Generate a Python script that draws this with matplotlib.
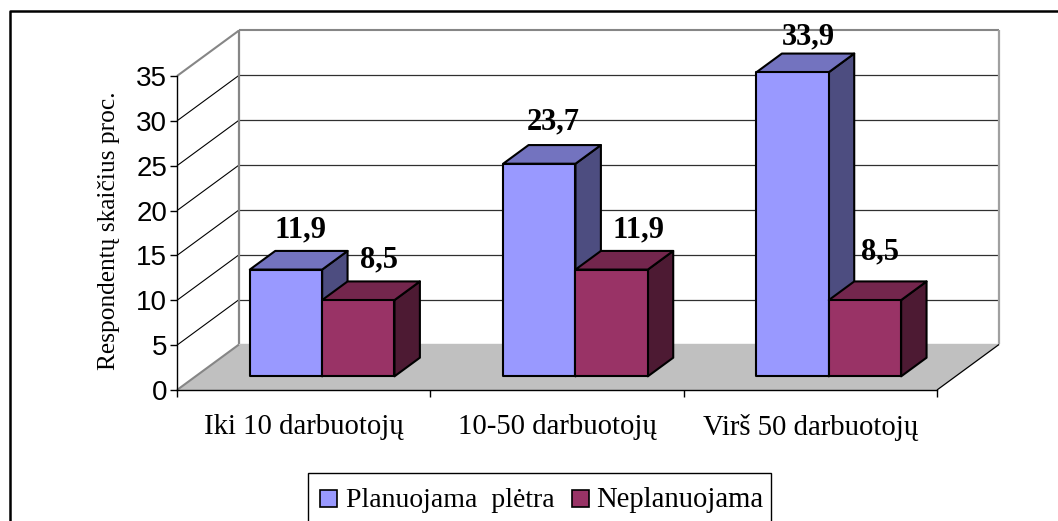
from matplotlib import pyplot as plt
from matplotlib.patches import Polygon, Rectangle

categories = ["Iki 10 darbuotojų", "10-50 darbuotojų", "Virš 50 darbuotojų"]
planned = [11.9, 23.7, 33.9]
not_planned = [8.5, 11.9, 8.5]
legend_labels = ["Planuojama  plėtra", "Neplanuojama"]
y_ticks = [0, 5, 10, 15, 20, 25, 30, 35]

W, H = 1058, 521
X0, X1, Y0, Y35 = 177, 937, 390, 76
DX = 62 / 253.33   # shift of the back wall, in categories
DY = 45.5 / 8.97   # shift of the back wall, in value units
BAR_LEFT, BAR_W = 0.214, 0.2855
D_FRONT, D_BACK = 0.30, 0.71

SERIF = "Liberation Serif"
SANS = "Liberation Sans"

fig = plt.figure(figsize=(W / 100, H / 100), dpi=100, facecolor="white")
ax = fig.add_axes([X0 / W, 1 - Y0 / H, (X1 - X0) / W, (Y0 - Y35) / H])
ax.set_xlim(0, 3)
ax.set_ylim(0, 35)
ax.patch.set_visible(False)

px = fig.add_axes([0, 0, 1, 1], zorder=-1)
px.set_xlim(0, W)
px.set_ylim(H, 0)
px.axis("off")


def poly(points, color, edge="none", lw=0.0, z=2):
    ax.add_patch(Polygon(points, closed=True, facecolor=color, edgecolor=edge,
                         linewidth=lw, zorder=z, clip_on=False, joinstyle="round"))


def line(xs, ys, color, lw, z=1.5):
    ax.plot(xs, ys, color=color, lw=lw, zorder=z, clip_on=False, solid_capstyle="butt")


# floor and walls
poly([(0, 0), (3, 0), (3 + DX, DY), (DX, DY)], "#C0C0C0", z=1)
for v in y_ticks[1:]:
    top = v == y_ticks[-1]
    line([0, DX], [v, v + DY], "#868686" if top else "black", 1.5 if top else 0.8)
    line([DX, 3 + DX], [v + DY, v + DY], "#868686" if top else "#303030", 1.5 if top else 0.9)
line([0, DX], [0, DY], "#868686", 1.5, z=1.6)
line([DX, DX], [DY, 35 + DY], "#868686", 1.6)
line([3 + DX, 3 + DX], [DY, 35 + DY], "#A0A0A0", 1.6)
line([DX, 3 + DX], [DY, DY], "#C0C0C0", 1.0)
line([3, 3 + DX], [0, DY], "black", 0.9, z=1.6)


def bar(x, value, front, top, side):
    fx = DX * D_FRONT
    fy = DY * D_FRONT
    bx = DX * D_BACK
    by = DY * D_BACK
    x0 = x + fx
    x1 = x + fx + BAR_W
    y0 = fy
    y1 = fy + value
    ddx = bx - fx
    ddy = by - fy
    poly([(x1, y0), (x1 + ddx, y0 + ddy), (x1 + ddx, y1 + ddy), (x1, y1)], side, "black", 1.5, 3)
    poly([(x0, y1), (x1, y1), (x1 + ddx, y1 + ddy), (x0 + ddx, y1 + ddy)], top, "black", 1.5, 3)
    poly([(x0, y0), (x1, y0), (x1, y1), (x0, y1)], front, "black", 1.5, 3)
    return (x0 + x1) / 2, y1


# offsets of the value labels from the top of each bar, in pixels
nudge_planned = [(15, 40), (14, 42), (16, 35)]
nudge_not = [(21, 40), (27, 40), (15, 48)]

for i in range(len(categories)):
    xa, ya = bar(i + BAR_LEFT, planned[i], "#9999FF", "#7373BF", "#4D4D80")
    xb, yb = bar(i + BAR_LEFT + BAR_W, not_planned[i], "#993366", "#73264D", "#4D1A33")
    for (xt, yt), v, n in ((xa, ya), planned[i], nudge_planned[i]), ((xb, yb), not_planned[i], nudge_not[i]):
        ax.annotate(str(v).replace(".", ","), (xt, yt), xytext=n, textcoords="offset pixels",
                    ha="center", va="center", family=SERIF, weight="bold",
                    fontsize=22, color="black", zorder=5, annotation_clip=False)

# axes
for s in ("top", "right"):
    ax.spines[s].set_visible(False)
for s in ("left", "bottom"):
    ax.spines[s].set_linewidth(1.0)
    ax.spines[s].set_zorder(2.5)
ax.set_yticks(y_ticks)
ax.set_yticklabels([str(v) for v in y_ticks], family=SANS, fontsize=20)
ax.tick_params(axis="y", length=5, width=1, pad=2)
ax.set_xticks([0, 1, 2, 3])
ax.set_xticklabels([])
ax.tick_params(axis="x", which="major", length=5, width=1)
ax.set_xticks([0.5, 1.5, 2.5], minor=True)
ax.set_xticklabels(categories, minor=True, family=SERIF, fontsize=20.7)
ax.tick_params(axis="x", which="minor", length=0, pad=17)
ax.set_ylabel("Respondentų skaičius proc.", family=SERIF, fontsize=18.3)
ax.yaxis.set_label_coords((120 - X0) / (X1 - X0), 0.506)

# outer frame, cut off by the picture on the right and at the bottom
px.plot([9.5, 9.5, W + 2], [H + 2, 11, 11], color="black", lw=1.8, clip_on=False)

# legend, also cut off at the bottom
px.add_patch(Rectangle((308, 473), 463, 60, facecolor="white", edgecolor="black", lw=1.0))
px.add_patch(Rectangle((319.5, 490), 17, 17, facecolor="#9999FF", edgecolor="black", lw=1.2))
px.add_patch(Rectangle((572, 490), 17, 17, facecolor="#993366", edgecolor="black", lw=1.2))
px.text(346, 507, legend_labels[0], family=SERIF, fontsize=20, va="baseline", ha="left")
px.text(596, 507, legend_labels[1], family=SERIF, fontsize=20.6, va="baseline", ha="left")

fig.savefig("out.png", dpi=100)
